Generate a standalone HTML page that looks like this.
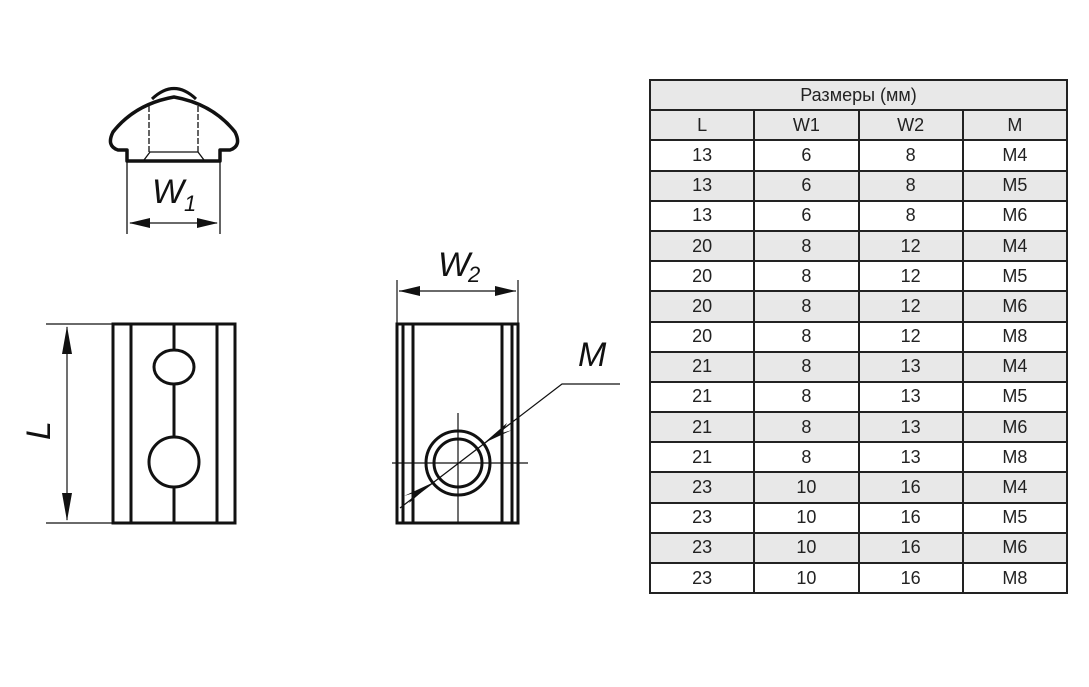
<!DOCTYPE html>
<html><head><meta charset="utf-8"><style>
body{margin:0;background:#fff;width:1089px;height:687px;overflow:hidden;position:relative;font-family:"Liberation Sans",sans-serif}
table{position:absolute;left:649px;top:79px;border-collapse:collapse;width:419px;height:514px;table-layout:fixed}
td{border:2px solid #222;padding:0;text-align:center;font-size:18px;color:#222;font-family:"Liberation Sans","DejaVu Sans",sans-serif}
tr{height:30.2px}
tr.g td{background:#e8e8e8}
</style></head><body>
<svg width="1089" height="687" style="position:absolute;left:0;top:0" font-family="Liberation Sans, sans-serif">
<g fill="none" stroke="#111" stroke-width="3.5" stroke-linejoin="round">
<path d="M127,161 L127,150 L118,150 Q106,146 113,132 Q135,104 174,97 Q213,104 235,132 Q242,146 230,150 L220,150 L220,161 Z"/>
<path d="M152,99 Q174,78 196,99" stroke-width="3"/>
</g>
<g stroke="#111" stroke-width="1.3" fill="none">
<path d="M149,106 V152 M198,106 V152" stroke-dasharray="6,2"/>
<path d="M144,160 L150,152 H198 L204,160"/>
<path d="M127,161 V234 M220,161 V234 M130,223 H217"/>
</g>
<path d="M129,223 L150,218 L150,228 Z M218,223 L197,218 L197,228 Z" fill="#111"/>
<text x="152" y="203" font-size="34" font-style="italic" fill="#111">W</text>
<text x="184" y="211" font-size="22" font-style="italic" fill="#111">1</text>

<g fill="none" stroke="#111" stroke-width="3">
<rect x="113" y="324" width="122" height="199"/>
<path d="M131,324 V523 M217,324 V523 M174,324 V350 M174,384 V437 M174,487 V523"/>
<ellipse cx="174" cy="367" rx="20" ry="17"/>
<circle cx="174" cy="462" r="25"/>
</g>
<g stroke="#111" stroke-width="1.2"><path d="M46,324 H113 M46,523 H113 M67,327 V520"/></g>
<path d="M67,326 L62,354 L72,354 Z M67,521 L62,493 L72,493 Z" fill="#111"/>
<text transform="translate(50,440) rotate(-90)" font-size="34" font-style="italic" fill="#111">L</text>

<g fill="none" stroke="#111" stroke-width="3">
<rect x="397" y="324" width="121" height="199"/>
<path d="M403,324 V523 M413,324 V523 M502,324 V523 M512,324 V523"/>
<circle cx="458" cy="463" r="32"/>
<circle cx="458" cy="463" r="24"/>
</g>
<g stroke="#111" stroke-width="1.2" fill="none">
<path d="M392,463 H528 M458,413 V523 M400,508 L562,384 H620"/>
<path d="M397,280 V324 M518,280 V324 M399,291 H516"/>
</g>
<path d="M399,291 L420,286 L420,296 Z M516,291 L495,286 L495,296 Z" fill="#111"/>
<path d="M484,443 L507,423 L502,433 L512,430 Z M432,483 L409,503 L414,493 L404,496 Z" fill="#111"/>
<text x="438" y="276" font-size="34" font-style="italic" fill="#111">W</text>
<text x="468" y="282" font-size="22" font-style="italic" fill="#111">2</text>
<text x="578" y="366" font-size="34" font-style="italic" fill="#111">M</text>
</svg>
<table>
<tr class="g"><td colspan="4">Размеры (мм)</td></tr>
<tr class="g"><td>L</td><td>W1</td><td>W2</td><td>M</td></tr>
<tr><td>13</td><td>6</td><td>8</td><td>M4</td></tr>
<tr class="g"><td>13</td><td>6</td><td>8</td><td>M5</td></tr>
<tr><td>13</td><td>6</td><td>8</td><td>M6</td></tr>
<tr class="g"><td>20</td><td>8</td><td>12</td><td>M4</td></tr>
<tr><td>20</td><td>8</td><td>12</td><td>M5</td></tr>
<tr class="g"><td>20</td><td>8</td><td>12</td><td>M6</td></tr>
<tr><td>20</td><td>8</td><td>12</td><td>M8</td></tr>
<tr class="g"><td>21</td><td>8</td><td>13</td><td>M4</td></tr>
<tr><td>21</td><td>8</td><td>13</td><td>M5</td></tr>
<tr class="g"><td>21</td><td>8</td><td>13</td><td>M6</td></tr>
<tr><td>21</td><td>8</td><td>13</td><td>M8</td></tr>
<tr class="g"><td>23</td><td>10</td><td>16</td><td>M4</td></tr>
<tr><td>23</td><td>10</td><td>16</td><td>M5</td></tr>
<tr class="g"><td>23</td><td>10</td><td>16</td><td>M6</td></tr>
<tr><td>23</td><td>10</td><td>16</td><td>M8</td></tr>
</table>
</body></html>
